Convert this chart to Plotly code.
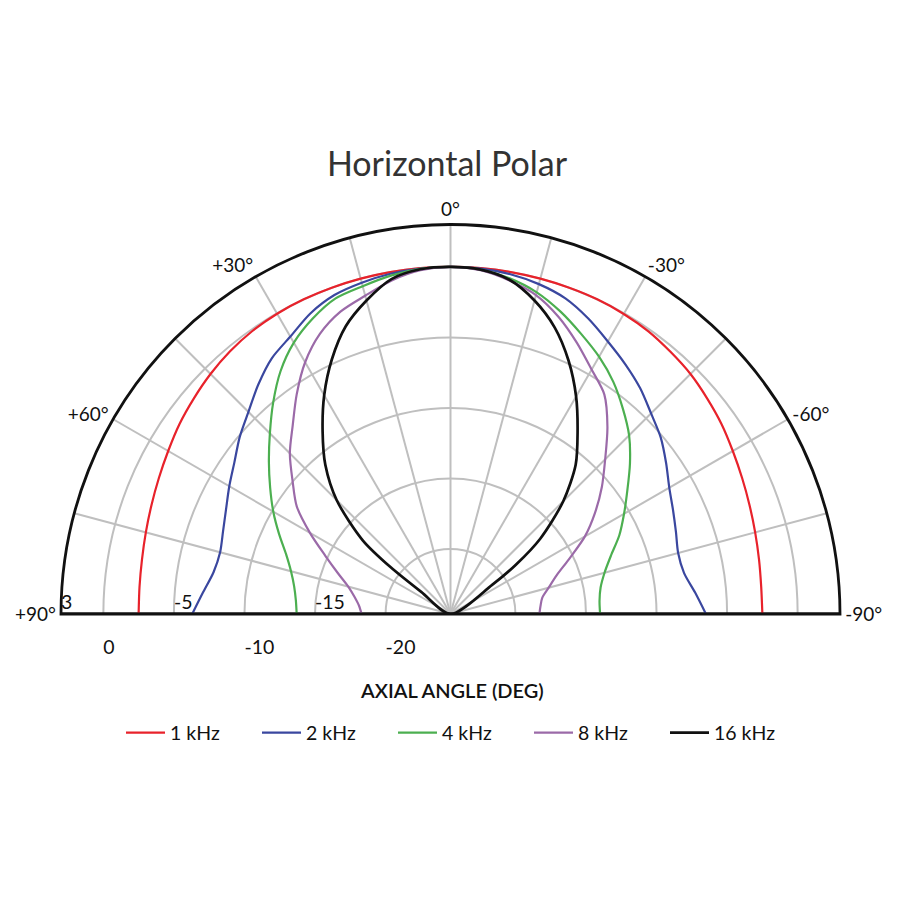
import plotly.graph_objects as go

# ---------------- data ----------------
THETA = list(range(-90, 91, 5))  # -90 = right end, +90 = left end

R_1K = [-2.5, -2.5, -2.4, -2.25, -2.05, -1.8, -1.5, -1.15, -0.85, -0.55, -0.35, -0.15, -0.05, 0, 0, 0, 0, 0,
        0,
        0, 0, 0, 0, 0, -0.03, -0.12, -0.3, -0.55, -0.85, -1.15, -1.5, -1.8, -2.05, -2.25, -2.4, -2.48, -2.5]
R_2K = [-6.5, -7.2, -7.8, -7.9, -7.6, -7.2, -6.7, -5.95, -5.15, -4.5, -3.7, -3.0, -2.3, -1.5, -0.8, -0.4, -0.15, -0.03,
        0,
        -0.03, -0.12, -0.3, -0.55, -1.1, -1.9, -2.5, -3.4, -4.35, -5.1, -5.9, -6.5, -7.05, -7.45, -7.7, -7.55, -7.0, -6.3]
R_4K = [-14.0, -14.0, -13.8, -13.3, -12.5, -11.4, -10.4, -9.3, -8.0, -6.7, -5.6, -4.5, -3.55, -2.7, -1.8, -1.0, -0.45, -0.1,
        0,
        -0.05, -0.25, -0.55, -0.8, -1.5, -2.4, -3.6, -5.05, -6.5, -7.8, -9.0, -10.1, -11.2, -12.2, -12.9, -13.35, -13.6, -13.7]
R_8K = [-18.3, -18.2, -18.0, -17.4, -16.6, -15.3, -13.6, -12.1, -10.6, -9.1, -7.3, -5.6, -4.6, -3.4, -2.2, -1.2, -0.6, -0.15,
        0,
        -0.15, -0.6, -1.25, -1.8, -2.7, -4.0, -5.6, -7.2, -8.5, -10.0, -11.3, -13.1, -14.8, -16.1, -17.1, -17.7, -18.1, -18.3]
THETA_16K = [-57, -55, -53, -50, -45, -40, -35, -30, -25, -20, -15, -10, -5, 0,
             5, 10, 15, 20, 25, 30, 35, 40, 45, 50, 52, 53, 54]
R_16K = [-24.6, -21.0, -18.8, -16.3, -13.3, -10.8, -8.9, -6.8, -4.8, -3.0, -1.6, -0.55, -0.1, 0,
         -0.08, -0.5, -1.6, -2.9, -4.7, -6.7, -8.8, -10.8, -13.2, -16.5, -19.2, -22.0, -24.6]

SERIES_NAMES = ["1 kHz", "2 kHz", "4 kHz", "8 kHz", "16 kHz"]
SERIES_COLORS = ["#e8222b", "#3a479f", "#4caf50", "#9b6aa8", "#111111"]

R_RANGE = [-24.6, 3]
RADIAL_GRID = [-20, -15, -10, -5, 0]
RADIAL_LABELS_TOP = [3, -5, -15]
RADIAL_LABELS_BOTTOM = [0, -10, -20]
ANGLE_TICKS = list(range(-90, 91, 15))
ANGLE_TEXT = ["-90°", "", "-60°", "", "-30°", "", "0°", "", "+30°", "", "+60°", "", "+90°"]

FONT = "Lato, 'Open Sans', sans-serif"
OFF = 8  # page body margin in the browser


def px_x(v):
    return (v - OFF) / 900


def px_y(v):
    return 1 - (v - OFF) / 900


fig = go.Figure()

# baseline (diameter at the outer radius)
fig.add_trace(go.Scatterpolar(r=[R_RANGE[1], R_RANGE[1]], theta=[90, -90], mode="lines",
                              line=dict(color="#111111", width=2.8), showlegend=False,
                              hoverinfo="skip", cliponaxis=False))

all_r = [R_1K, R_2K, R_4K, R_8K, R_16K]
all_t = [THETA, THETA, THETA, THETA, THETA_16K]
for name, col, rr, tt in zip(SERIES_NAMES, SERIES_COLORS, all_r, all_t):
    fig.add_trace(go.Scatterpolar(r=rr, theta=tt, mode="lines", name=name,
                                  line=dict(color=col, width=2.7 if name == "16 kHz" else 2.2,
                                            shape="spline", smoothing=0.8),
                                  cliponaxis=False))

# radial labels
fig.add_trace(go.Scatterpolar(r=RADIAL_LABELS_TOP, theta=[90] * len(RADIAL_LABELS_TOP), mode="text",
                              text=[str(v) for v in RADIAL_LABELS_TOP], textposition="top right",
                              textfont=dict(family=FONT, size=19.5, color="#111111"),
                              showlegend=False, hoverinfo="skip", cliponaxis=False))
fig.add_trace(go.Scatterpolar(r=RADIAL_LABELS_BOTTOM, theta=[90] * len(RADIAL_LABELS_BOTTOM), mode="text",
                              text=["<br>" + str(v) for v in RADIAL_LABELS_BOTTOM], textposition="bottom right",
                              textfont=dict(family=FONT, size=19.5, color="#111111"),
                              showlegend=False, hoverinfo="skip", cliponaxis=False))

fig.update_layout(
    width=900, height=900,
    margin=dict(l=0, r=0, t=0, b=0),
    paper_bgcolor="white",
    font=dict(family=FONT, color="#111111"),
    title=dict(text="Horizontal Polar", x=px_x(447), xanchor="center", y=px_y(164), yanchor="middle",
               font=dict(family=FONT, size=34, color="#333333")),
    polar=dict(
        domain=dict(x=[px_x(61), px_x(840)], y=[px_y(614), px_y(224.5)]),
        sector=[0, 180],
        bgcolor="white",
        angularaxis=dict(rotation=90, direction="counterclockwise", tickmode="array",
                         tickvals=ANGLE_TICKS, ticktext=ANGLE_TEXT, ticks="",
                         showline=True, linecolor="#111111", linewidth=2.8,
                         showgrid=True, gridcolor="#bfbfbf", gridwidth=1.5,
                         tickfont=dict(family=FONT, size=19, color="#111111")),
        radialaxis=dict(range=R_RANGE, tickmode="array", tickvals=RADIAL_GRID, showticklabels=False,
                        ticks="", showline=False, angle=180,
                        showgrid=True, gridcolor="#bfbfbf", gridwidth=1.5),
    ),
    legend=dict(orientation="h", x=px_x(121), xanchor="left", y=px_y(733), yanchor="middle",
                font=dict(family=FONT, size=19.5, color="#111111"),
                entrywidth=82, entrywidthmode="pixels", itemwidth=39),
    annotations=[dict(text="AXIAL ANGLE (DEG)", x=px_x(452), y=px_y(690), xref="paper", yref="paper",
                      xanchor="center", yanchor="middle",
                      showarrow=False, font=dict(family=FONT, size=20, color="#111111", weight=600))],
)

fig.write_html("out.html")
